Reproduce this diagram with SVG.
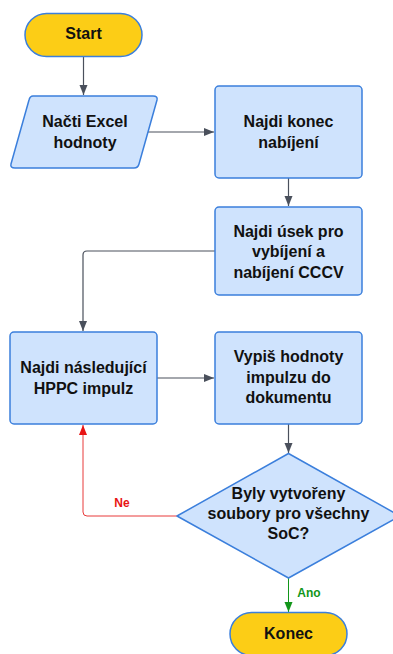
<svg xmlns="http://www.w3.org/2000/svg" width="393" height="654" viewBox="0 0 393 654">
<defs>
<style>
.term{fill:#fccd16;stroke:#3b7fdc;stroke-width:1.5}
.proc{fill:#cfe3fd;stroke:#3b7fdc;stroke-width:1.5}
.t{font-family:"Liberation Sans",Arial,sans-serif;font-weight:bold;font-size:16px;fill:#111;text-anchor:middle}
.lbl{font-family:"Liberation Sans",Arial,sans-serif;font-weight:bold;font-size:12px;text-anchor:middle}
.c{fill:none;stroke:#4a505c;stroke-width:1.2}
</style>
<marker id="ag" viewBox="0 0 10 10" refX="10" refY="5" markerWidth="10" markerHeight="10" markerUnits="userSpaceOnUse" orient="auto"><path d="M0,1 L10,5 L0,9 z" fill="#4a505c"/></marker>
<marker id="ar" viewBox="0 0 10 10" refX="10" refY="5" markerWidth="10" markerHeight="10" markerUnits="userSpaceOnUse" orient="auto"><path d="M0,1 L10,5 L0,9 z" fill="#e81313"/></marker>
<marker id="an" viewBox="0 0 10 10" refX="10" refY="5" markerWidth="10" markerHeight="10" markerUnits="userSpaceOnUse" orient="auto"><path d="M0,1 L10,5 L0,9 z" fill="#12961a"/></marker>
</defs>
<rect width="393" height="654" fill="#fff"/>
<g id="connectors">
<path class="c" d="M83.5,57 V95" marker-end="url(#ag)"/>
<path class="c" d="M148,132 H214" marker-end="url(#ag)"/>
<path class="c" d="M288.5,178 V206" marker-end="url(#ag)"/>
<path class="c" d="M215,251 H87 Q83,251 83,255 V331" marker-end="url(#ag)"/>
<path class="c" d="M157,378 H214" marker-end="url(#ag)"/>
<path class="c" d="M288.5,424 V453" marker-end="url(#ag)"/>
<path d="M177,516 H87 Q83,516 83,512 V425" fill="none" stroke="#e83a3a" stroke-width="1" marker-end="url(#ar)"/>
<path d="M288.5,578 V612" fill="none" stroke="#12961a" stroke-width="1" marker-end="url(#an)"/>
<text class="lbl" x="122" y="507" fill="#e81313">Ne</text>
<text class="lbl" x="309" y="597" fill="#12961a">Ano</text>
</g>
<g id="start">
<rect class="term" x="25" y="13.5" width="117" height="43" rx="21.5"/>
<text class="t" x="83.5" y="39.2">Start</text>
</g>
<g id="nacti">
<path class="proc" d="M33,96 H153 Q158,96 157,100 L139,164 Q138,168 134,168 H15 Q10,168 11,164 L29,100 Q30,96 33,96 z"/>
<text class="t" x="85" y="127.2">Načti Excel</text>
<text class="t" x="85" y="148.2">hodnoty</text>
</g>
<g id="konec-nabijeni">
<rect class="proc" x="215" y="86" width="147" height="92" rx="4"/>
<text class="t" x="288.5" y="127.2">Najdi konec</text>
<text class="t" x="288.5" y="148.2">nabíjení</text>
</g>
<g id="usek">
<rect class="proc" x="215" y="207" width="147" height="88" rx="4"/>
<text class="t" x="288.5" y="236.5">Najdi úsek pro</text>
<text class="t" x="288.5" y="257.2">vybíjení a</text>
<text class="t" x="288.5" y="278">nabíjení CCCV</text>
</g>
<g id="nasledujici">
<rect class="proc" x="10" y="332" width="147" height="92" rx="4"/>
<text class="t" x="83.5" y="373.2">Najdi následující</text>
<text class="t" x="83.5" y="394.2">HPPC impulz</text>
</g>
<g id="vypis">
<rect class="proc" x="215" y="332" width="147" height="92" rx="4"/>
<text class="t" x="288.5" y="362">Vypiš hodnoty</text>
<text class="t" x="288.5" y="382.5">impulzu do</text>
<text class="t" x="288.5" y="403">dokumentu</text>
</g>
<g id="rozhodnuti">
<path class="proc" d="M288.5,453.5 L400,516 L288.5,578 L177,516 z" stroke-linejoin="round"/>
<text class="t" x="288.5" y="499.3">Byly vytvořeny</text>
<text class="t" x="288.5" y="519">soubory pro všechny</text>
<text class="t" x="288.5" y="538.5">SoC?</text>
</g>
<g id="konec">
<rect class="term" x="230" y="612.5" width="117" height="43" rx="21.5"/>
<text class="t" x="288.5" y="638.7">Konec</text>
</g>
</svg>
